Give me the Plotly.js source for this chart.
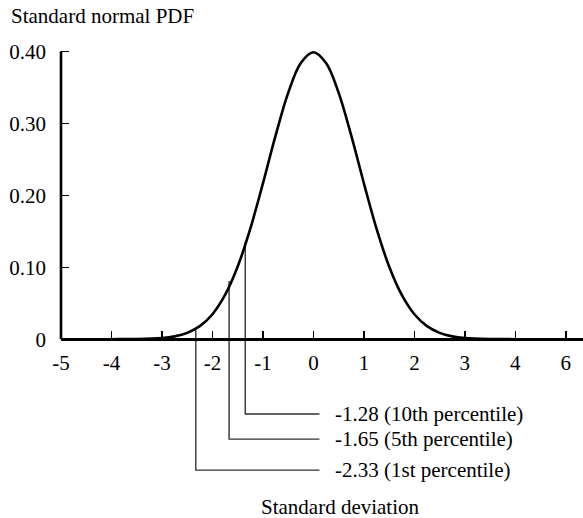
<!DOCTYPE html>
<html>
<head>
<meta charset="utf-8">
<script src="https://cdn.plot.ly/plotly-3.0.1.min.js"></script>
<style>html,body{margin:0;padding:0;background:#fff;}#chart{width:583px;height:518px;}</style>
</head>
<body>
<div id="chart"></div>
<script>
// Curve values
const curveX = [-5, -4, -3.5, -3, -2.75, -2.5, -2.25, -2, -1.75, -1.5, -1.25, -1, -0.75, -0.5, -0.25, 0, 0.25, 0.5, 0.75, 1, 1.25, 1.5, 1.75, 2, 2.25, 2.5, 2.75, 3, 3.5, 4, 5.34];
const curveY = [0, 0, 0.0002, 0.0016, 0.0039, 0.0088, 0.0181, 0.0347, 0.0615, 0.101, 0.1537, 0.2167, 0.283, 0.3425, 0.384, 0.399, 0.384, 0.3425, 0.283, 0.2167, 0.1537, 0.101, 0.0615, 0.0347, 0.0181, 0.0088, 0.0039, 0.0016, 0.0002, 0, 0];

// Percentile markers (drawn positions as read, curve heights at them, labels)
const pctX = [-2.33, -1.67, -1.35];
const pctTop = [0.015, 0.081, 0.135];
const pctLabels = ["-2.33 (1st percentile)", "-1.65 (5th percentile)", "-1.28 (10th percentile)"];

// Axis ticks
const xTickVals = [-5, -4, -3, -2, -1, 0, 1, 2, 3, 4, 5];
const xTickText = ["-5", "-4", "-3", "-2", "-1", "0", "1", "2", "3", "4", "6"];
const yTickVals = [0, 0.1, 0.2, 0.3, 0.4];
const yTickText = ["0", "0.10", "0.20", "0.30", "0.40"];

// Layout helpers (leader line depths below the axis, label column)
const leaderDepth = [-0.182, -0.139, -0.104];
const leaderEndX = 0.12;
const labelX = 0.39;

const FONT = "Liberation Serif, Times New Roman, serif";
const yRange = [-0.1958, 0.4021];
const xRange = [-5, 5.34];

const traces = [];
pctX.forEach((px, i) => {
  traces.push({
    x: [px, px, leaderEndX],
    y: [pctTop[i], leaderDepth[i], leaderDepth[i]],
    mode: 'lines', type: 'scatter',
    line: {color: '#333', width: 1.4},
    hoverinfo: 'skip', showlegend: false
  });
});
traces.push({
  x: curveX, y: curveY, mode: 'lines', type: 'scatter',
  line: {color: '#000', width: 2.6, shape: 'spline', smoothing: 1},
  hoverinfo: 'skip', showlegend: false
});

const annotations = pctLabels.map((t, i) => ({
  text: t, x: labelX, y: leaderDepth[i], xref: 'x', yref: 'y',
  xanchor: 'left', yanchor: 'middle', showarrow: false,
  font: {family: FONT, size: 21, color: '#000'}
}));
annotations.push({
  text: 'Standard normal PDF', x: -0.1, y: 1.078, xref: 'paper', yref: 'paper',
  xanchor: 'left', yanchor: 'middle', showarrow: false,
  font: {family: FONT, size: 21, color: '#000'}
});
annotations.push({
  text: 'Standard deviation', x: 0.5345, y: -0.062, xref: 'paper', yref: 'paper',
  xanchor: 'center', yanchor: 'middle', showarrow: false,
  font: {family: FONT, size: 21, color: '#000'}
});

const layout = {
  width: 583, height: 518,
  margin: {l: 61, r: 0, t: 50, b: 38, pad: 0},
  paper_bgcolor: '#fff', plot_bgcolor: '#fff',
  showlegend: false,
  font: {family: FONT, size: 21, color: '#000'},
  xaxis: {
    range: xRange, anchor: 'free', position: (0 - yRange[0]) / (yRange[1] - yRange[0]),
    showline: true, linecolor: '#000', linewidth: 2.6,
    ticks: 'inside', ticklen: 7, tickwidth: 1.4, tickcolor: '#000',
    tickvals: xTickVals, ticktext: xTickText,
    showgrid: false, zeroline: false, ticklabelstandoff: 4,
    tickfont: {family: FONT, size: 21, color: '#000'}
  },
  yaxis: {
    range: yRange, showline: false,
    ticks: 'inside', ticklen: 8, tickwidth: 1.4, tickcolor: '#000',
    tickvals: yTickVals, ticktext: yTickText,
    showgrid: false, zeroline: false, ticklabelstandoff: 14,
    tickfont: {family: FONT, size: 21, color: '#000'}
  },
  shapes: [{
    type: 'line', xref: 'paper', yref: 'y', x0: 0, x1: 0, y0: 0, y1: yTickVals[yTickVals.length - 1],
    line: {color: '#000', width: 2.6}
  }],
  annotations: annotations
};

Plotly.newPlot('chart', traces, layout, {staticPlot: true, displayModeBar: false});
</script>
</body>
</html>
